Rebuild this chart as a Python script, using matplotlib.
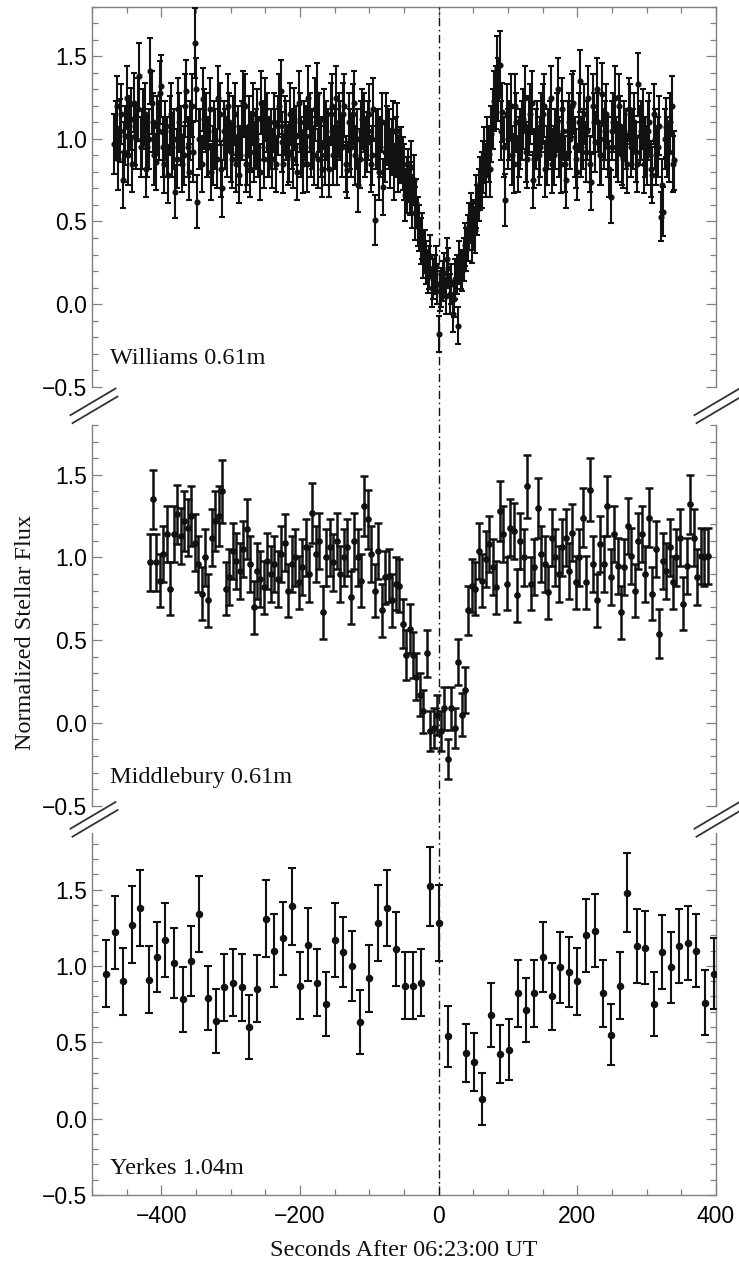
import numpy as np
import matplotlib
matplotlib.use("Agg")
import matplotlib.pyplot as plt
from matplotlib.lines import Line2D
import matplotlib.transforms as mtransforms
from matplotlib.ticker import MultipleLocator

# ---------------- data ----------------
# Williams 0.61m : two interleaved frame sets (cadence)
WILLIAMS_A_T0 = -468
WILLIAMS_B_T0 = -466
WILLIAMS_DT = 4
WILLIAMS_A_FLUX = [
    0.97, 1.20, 1.05, 0.75, 1.02, 0.90, 1.12, 1.22, 1.00, 1.38,
    1.00, 1.15, 0.95, 1.41, 1.10, 0.86, 1.05, 1.32, 0.85, 0.95,
    1.08, 0.95, 0.68, 1.18, 1.02, 0.90, 1.29, 0.80, 1.20, 1.58,
    0.62, 1.00, 1.24, 1.10, 0.95, 0.80, 1.05, 0.88, 1.15, 0.70,
    1.00, 1.20, 0.92, 1.08, 0.85, 0.78, 1.05, 1.20, 0.90, 0.82,
    1.15, 1.00, 0.95, 1.22, 0.88, 1.10, 0.95, 0.88, 1.00, 1.08,
    1.29, 0.85, 1.05, 0.92, 1.00, 1.12, 0.80, 1.10, 0.85, 1.02,
    1.25, 0.95, 0.90, 1.27, 1.10, 0.82, 0.90, 1.00, 1.15, 0.90,
    1.25, 1.10, 0.95, 1.20, 0.81, 1.00, 1.15, 0.90, 0.72, 1.05,
    1.10, 0.98, 1.15, 0.90, 0.51, 1.00, 0.95, 0.71, 1.10, 1.00,
    0.95, 0.80, 1.05, 0.90, 0.85, 0.66, 0.78, 0.83, 0.75, 0.61,
    0.46, 0.41, 0.32, 0.19, 0.29, 0.15, 0.23, -0.18, 0.10, 0.19,
    0.27, 0.06, -0.06, 0.15, -0.13, 0.21, 0.27, 0.33, 0.47, 0.39,
    0.45, 0.57, 0.73, 0.83, 0.81, 0.91, 1.03, 1.23, 1.43, 1.45,
    1.16, 0.63, 1.00, 1.20, 0.85, 1.10, 0.95, 1.05, 1.25, 0.88,
    1.15, 0.75, 1.00, 0.90, 1.10, 1.20, 0.90, 1.05, 0.85, 1.00,
    1.30, 0.85, 1.05, 0.75, 1.10, 1.20, 0.95, 0.80, 1.35, 1.00,
    0.92, 1.25, 0.74, 1.10, 1.30, 0.90, 1.27, 1.05, 0.95, 0.65,
    1.10, 0.95, 1.20, 0.90, 1.05, 0.85, 1.15, 1.00, 0.92, 1.33,
    1.05, 0.85, 0.90, 1.10, 0.78, 1.00, 0.95, 0.53, 0.56, 1.07,
    0.92, 1.20, 0.87,
]
WILLIAMS_A_ERR = [
    0.18, 0.18, 0.19, 0.17, 0.18, 0.18, 0.19, 0.18, 0.18, 0.20,
    0.18, 0.19, 0.18, 0.20, 0.18, 0.17, 0.18, 0.19, 0.18, 0.18,
    0.18, 0.18, 0.16, 0.19, 0.18, 0.18, 0.19, 0.17, 0.19, 0.21,
    0.16, 0.18, 0.19, 0.18, 0.18, 0.17, 0.18, 0.18, 0.19, 0.17,
    0.18, 0.19, 0.18, 0.18, 0.17, 0.17, 0.18, 0.19, 0.18, 0.17,
    0.19, 0.18, 0.18, 0.19, 0.18, 0.18, 0.18, 0.18, 0.18, 0.18,
    0.19, 0.18, 0.18, 0.18, 0.18, 0.19, 0.17, 0.18, 0.18, 0.18,
    0.19, 0.18, 0.18, 0.19, 0.18, 0.17, 0.18, 0.18, 0.19, 0.18,
    0.19, 0.18, 0.18, 0.19, 0.17, 0.18, 0.18, 0.18, 0.16, 0.18,
    0.18, 0.18, 0.18, 0.18, 0.15, 0.18, 0.18, 0.17, 0.18, 0.18,
    0.17, 0.17, 0.17, 0.17, 0.16, 0.16, 0.16, 0.16, 0.15, 0.15,
    0.14, 0.14, 0.13, 0.12, 0.13, 0.12, 0.12, 0.11, 0.12, 0.12,
    0.13, 0.12, 0.11, 0.12, 0.11, 0.12, 0.13, 0.13, 0.14, 0.14,
    0.14, 0.15, 0.16, 0.16, 0.16, 0.17, 0.17, 0.18, 0.19, 0.20,
    0.18, 0.16, 0.18, 0.19, 0.18, 0.18, 0.18, 0.18, 0.19, 0.18,
    0.18, 0.17, 0.18, 0.18, 0.18, 0.19, 0.18, 0.18, 0.18, 0.18,
    0.19, 0.18, 0.18, 0.17, 0.18, 0.19, 0.18, 0.17, 0.19, 0.18,
    0.18, 0.19, 0.17, 0.18, 0.19, 0.18, 0.19, 0.18, 0.18, 0.16,
    0.18, 0.18, 0.19, 0.18, 0.18, 0.18, 0.18, 0.18, 0.18, 0.19,
    0.18, 0.18, 0.18, 0.18, 0.17, 0.18, 0.18, 0.15, 0.15, 0.18,
    0.18, 0.18, 0.18,
]
WILLIAMS_B_FLUX = [
    1.05, 0.88, 1.15, 0.92, 1.25, 1.08, 0.85, 1.02, 1.18, 0.95,
    1.12, 0.82, 1.00, 1.22, 0.90, 1.08, 1.28, 0.95, 1.05, 0.78,
    1.15, 1.00, 0.88, 1.10, 0.85, 1.20, 0.95, 1.05, 0.92, 1.30,
    1.00, 0.85, 1.12, 0.95, 1.18, 0.90, 1.00, 1.25, 0.82, 1.05,
    0.95, 1.10, 0.88, 1.15, 1.02, 0.90, 1.22, 0.85, 1.08, 0.98,
    0.92, 1.12, 0.80, 1.05, 1.18, 0.95, 1.00, 1.10, 0.85, 1.20,
    0.98, 1.08, 0.90, 1.15, 0.88, 1.02, 1.22, 0.95, 1.05, 0.85,
    1.10, 1.00, 1.18, 0.88, 0.95, 1.12, 1.05, 0.82, 1.20, 1.00,
    0.90, 1.05, 1.15, 0.85, 1.10, 0.95, 1.22, 1.00, 0.88, 1.12,
    0.95, 1.05, 0.85, 1.18, 1.00, 0.80, 1.10, 0.92, 1.02, 0.88,
    1.05, 0.95, 0.85, 0.90, 0.80, 0.72, 0.70, 0.62, 0.55, 0.50,
    0.38, 0.30, 0.25, 0.22, 0.10, 0.18, 0.12, 0.08, 0.14, 0.05,
    0.22, 0.12, 0.03, 0.18, 0.25, 0.20, 0.36, 0.40, 0.52, 0.48,
    0.62, 0.66, 0.75, 0.90, 0.95, 0.82, 1.12, 1.25, 1.30, 1.05,
    0.95, 1.15, 1.05, 0.90, 1.20, 0.85, 1.00, 1.12, 0.92, 1.08,
    1.22, 0.88, 1.05, 0.95, 1.15, 0.82, 1.00, 1.25, 0.90, 1.10,
    0.95, 1.18, 0.85, 1.05, 1.00, 1.22, 0.88, 1.10, 0.95, 1.15,
    1.05, 0.85, 1.20, 0.98, 1.10, 0.90, 1.00, 1.15, 0.82, 1.05,
    1.25, 0.92, 1.08, 0.88, 1.00, 1.18, 0.95, 1.10, 0.85, 1.02,
    1.12, 0.95, 1.05, 0.82, 1.15, 0.90, 1.08, 0.72, 1.00, 0.95,
    1.10, 0.85,
]
WILLIAMS_B_ERR = [
    0.18, 0.19, 0.18, 0.18, 0.19, 0.18, 0.17, 0.18, 0.19, 0.18,
    0.18, 0.17, 0.18, 0.19, 0.18, 0.18, 0.19, 0.18, 0.18, 0.17,
    0.19, 0.18, 0.18, 0.18, 0.17, 0.19, 0.18, 0.18, 0.18, 0.19,
    0.18, 0.17, 0.18, 0.18, 0.19, 0.18, 0.18, 0.19, 0.17, 0.18,
    0.18, 0.18, 0.18, 0.19, 0.18, 0.18, 0.19, 0.17, 0.18, 0.18,
    0.18, 0.18, 0.17, 0.18, 0.19, 0.18, 0.18, 0.18, 0.17, 0.19,
    0.18, 0.18, 0.18, 0.19, 0.18, 0.18, 0.19, 0.18, 0.18, 0.17,
    0.18, 0.18, 0.19, 0.18, 0.18, 0.18, 0.18, 0.17, 0.19, 0.18,
    0.18, 0.18, 0.19, 0.17, 0.18, 0.18, 0.19, 0.18, 0.18, 0.18,
    0.18, 0.18, 0.17, 0.19, 0.18, 0.17, 0.18, 0.18, 0.18, 0.18,
    0.18, 0.18, 0.17, 0.17, 0.17, 0.17, 0.16, 0.16, 0.16, 0.15,
    0.14, 0.14, 0.13, 0.13, 0.12, 0.12, 0.12, 0.12, 0.12, 0.11,
    0.12, 0.12, 0.11, 0.12, 0.13, 0.12, 0.13, 0.14, 0.15, 0.15,
    0.16, 0.16, 0.17, 0.17, 0.18, 0.17, 0.18, 0.19, 0.19, 0.18,
    0.18, 0.18, 0.18, 0.18, 0.19, 0.17, 0.18, 0.18, 0.18, 0.18,
    0.19, 0.18, 0.18, 0.18, 0.18, 0.17, 0.18, 0.19, 0.18, 0.18,
    0.18, 0.19, 0.17, 0.18, 0.18, 0.19, 0.18, 0.18, 0.18, 0.18,
    0.18, 0.17, 0.19, 0.18, 0.18, 0.18, 0.18, 0.18, 0.17, 0.18,
    0.19, 0.18, 0.18, 0.18, 0.18, 0.19, 0.18, 0.18, 0.17, 0.18,
    0.18, 0.18, 0.18, 0.17, 0.18, 0.18, 0.18, 0.16, 0.18, 0.18,
    0.18, 0.17,
]

# Middlebury 0.61m
MIDDLEBURY_T0 = -417
MIDDLEBURY_DT = 5
MIDDLEBURY_FLUX = [
    0.97, 1.35, 0.97, 0.86, 1.02, 1.14, 0.81, 1.14, 1.26, 1.13,
    1.22, 1.18, 1.25, 1.09, 0.96, 0.78, 1.00, 0.74, 1.12, 1.22,
    1.25, 1.40, 0.81, 0.88, 1.04, 0.98, 0.92, 1.05, 1.17, 0.96,
    0.70, 0.92, 0.87, 0.82, 0.98, 0.90, 0.96, 0.87, 1.02, 1.09,
    0.80, 0.96, 1.00, 0.85, 0.94, 1.06, 0.90, 1.27, 1.02, 1.10,
    0.67, 1.00, 1.06, 0.97, 1.10, 0.90, 1.00, 1.06, 0.76, 1.10,
    1.00, 0.86, 1.31, 1.23, 1.02, 0.80, 1.04, 0.68, 0.88, 0.89,
    0.74, 0.84, 0.83, 0.60, 0.41, 0.57, 0.41, 0.28, 0.17, 0.07,
    0.42, -0.05, -0.03, 0.05, -0.05, 0.09, -0.22, 0.09, -0.03, 0.37,
    0.05, 0.20, 0.68, 0.83, 0.81, 1.04, 0.86, 0.99, 1.08, 0.94,
    0.82, 1.28, 1.14, 0.84, 1.18, 1.16, 0.77, 1.10, 1.00, 1.43,
    0.84, 0.94, 1.30, 1.02, 0.96, 0.79, 1.12, 1.00, 0.90, 1.06,
    1.12, 0.92, 1.15, 0.85, 1.00, 1.24, 0.85, 1.41, 0.96, 0.74,
    1.08, 0.96, 1.31, 0.88, 1.14, 0.95, 0.67, 0.94, 1.19, 1.01,
    0.80, 1.10, 1.14, 0.90, 1.24, 0.78, 1.05, 0.54, 0.98, 0.92,
    1.06, 0.85, 1.00, 1.12, 0.72, 0.95, 1.32, 1.12, 0.88, 1.01,
    1.00, 1.01,
]
MIDDLEBURY_ERR = [
    0.17, 0.18, 0.17, 0.16, 0.17, 0.17, 0.16, 0.17, 0.18, 0.17,
    0.18, 0.17, 0.18, 0.17, 0.17, 0.16, 0.17, 0.16, 0.17, 0.18,
    0.18, 0.19, 0.16, 0.17, 0.17, 0.17, 0.17, 0.17, 0.18, 0.17,
    0.16, 0.17, 0.17, 0.16, 0.17, 0.17, 0.17, 0.17, 0.17, 0.17,
    0.16, 0.17, 0.17, 0.16, 0.17, 0.17, 0.17, 0.18, 0.17, 0.17,
    0.16, 0.17, 0.17, 0.17, 0.17, 0.17, 0.17, 0.17, 0.16, 0.17,
    0.17, 0.16, 0.18, 0.18, 0.17, 0.16, 0.17, 0.16, 0.16, 0.16,
    0.16, 0.16, 0.16, 0.15, 0.15, 0.15, 0.14, 0.14, 0.13, 0.13,
    0.14, 0.12, 0.12, 0.12, 0.12, 0.13, 0.12, 0.13, 0.12, 0.14,
    0.13, 0.14, 0.15, 0.16, 0.16, 0.17, 0.16, 0.17, 0.17, 0.17,
    0.16, 0.18, 0.17, 0.16, 0.17, 0.17, 0.16, 0.17, 0.17, 0.19,
    0.16, 0.17, 0.18, 0.17, 0.17, 0.16, 0.17, 0.17, 0.17, 0.17,
    0.17, 0.17, 0.17, 0.16, 0.17, 0.18, 0.16, 0.19, 0.17, 0.16,
    0.17, 0.17, 0.18, 0.17, 0.17, 0.17, 0.16, 0.17, 0.17, 0.17,
    0.16, 0.17, 0.17, 0.17, 0.18, 0.16, 0.17, 0.15, 0.17, 0.17,
    0.17, 0.16, 0.17, 0.17, 0.16, 0.17, 0.18, 0.17, 0.17, 0.17,
    0.17, 0.17,
]

# Yerkes 1.04m
YERKES_T = [
    -480, -467, -455, -443, -431, -418, -406, -394, -382, -369,
    -357, -345, -333, -321, -309, -297, -284, -274, -262, -249,
    -237, -225, -212, -200, -188, -176, -163, -150, -138, -125,
    -113, -101, -88, -74, -61, -49, -37, -25, -12, 1,
    14, 39, 51, 63, 76, 88, 101, 114, 126, 138,
    150, 163, 175, 188, 200, 212, 225, 237, 249, 261,
    272, 286, 298, 310, 322, 335, 347, 359, 371, 384,
    397,
]
YERKES_FLUX = [
    0.95, 1.22, 0.90, 1.27, 1.38, 0.91, 1.06, 1.17, 1.02, 0.78,
    1.03, 1.34, 0.79, 0.64, 0.86, 0.89, 0.86, 0.60, 0.85, 1.31,
    1.10, 1.18, 1.39, 0.87, 1.14, 0.89, 0.75, 1.17, 1.09, 1.00,
    0.63, 0.92, 1.28, 1.38, 1.11, 0.87, 0.87, 0.89, 1.52, 1.28,
    0.54, 0.43, 0.37, 0.13, 0.68, 0.42, 0.45, 0.82, 0.71, 0.82,
    1.06, 0.80, 0.99, 0.96, 0.90, 1.20, 1.23, 0.82, 0.55, 0.87,
    1.48, 1.13, 1.12, 0.75, 1.09, 0.99, 1.13, 1.15, 1.10, 0.76,
    0.95,
]
YERKES_ERR = [
    0.22, 0.24, 0.22, 0.25, 0.25, 0.22, 0.23, 0.24, 0.23, 0.21,
    0.23, 0.25, 0.21, 0.21, 0.22, 0.22, 0.22, 0.21, 0.22, 0.25,
    0.24, 0.24, 0.25, 0.22, 0.24, 0.22, 0.21, 0.24, 0.23, 0.23,
    0.21, 0.22, 0.25, 0.25, 0.24, 0.22, 0.22, 0.22, 0.26, 0.25,
    0.20, 0.19, 0.19, 0.17, 0.21, 0.19, 0.20, 0.22, 0.21, 0.22,
    0.23, 0.22, 0.23, 0.23, 0.22, 0.24, 0.24, 0.22, 0.20, 0.22,
    0.26, 0.24, 0.24, 0.21, 0.24, 0.23, 0.24, 0.24, 0.24, 0.21,
    0.23,
]

PANEL_LABELS = ["Williams 0.61m", "Middlebury 0.61m", "Yerkes 1.04m"]
X_LABEL = "Seconds After 06:23:00 UT"
Y_LABEL = "Normalized Stellar Flux"

# ---------------- build series ----------------
wa_t = WILLIAMS_A_T0 + WILLIAMS_DT * np.arange(len(WILLIAMS_A_FLUX))
wb_t = WILLIAMS_B_T0 + WILLIAMS_DT * np.arange(len(WILLIAMS_B_FLUX))
w_t = np.concatenate([wa_t, wb_t])
w_f = np.concatenate([WILLIAMS_A_FLUX, WILLIAMS_B_FLUX])
w_e = np.concatenate([WILLIAMS_A_ERR, WILLIAMS_B_ERR])
m_t = MIDDLEBURY_T0 + MIDDLEBURY_DT * np.arange(len(MIDDLEBURY_FLUX))
# (t, flux, err, markersize, capsize, linewidth)
series = [
    (w_t, w_f, w_e, 3.4, 2.5, 1.5),
    (m_t, np.array(MIDDLEBURY_FLUX), np.array(MIDDLEBURY_ERR), 3.8, 2.6, 1.8),
    (np.array(YERKES_T), np.array(YERKES_FLUX), np.array(YERKES_ERR), 4.4, 2.8, 1.5),
]

# ---------------- figure ----------------
plt.rcParams['font.family'] = ['Liberation Sans', 'DejaVu Sans']
SERIF = ['Liberation Serif', 'DejaVu Serif']
W, H = 739, 1264
fig = plt.figure(figsize=(W / 100, H / 100), dpi=100)

LEFT, RIGHT = 92, 716
PANELS = [(6.7, 386.7), (425.0, 805.7), (833.0, 1195.0)]
YLIMS = [(-0.5, 1.80), (-0.5, 1.80), (-0.5, 1.87)]
SPINE = '#808080'
INK = '#111111'

axes = []
for i, ((top, bot), yl, (t, f, e, ms, cs, lw), lab) in enumerate(
        zip(PANELS, YLIMS, series, PANEL_LABELS)):
    ax = fig.add_axes([LEFT / W, 1 - bot / H, (RIGHT - LEFT) / W, (bot - top) / H])
    ax.set_facecolor('none')
    ax.errorbar(t, f, yerr=e, fmt='o', color=INK, ms=ms, mec=INK, mfc=INK,
                capsize=cs, elinewidth=lw, capthick=lw, zorder=3)
    ax.set_xlim(-500, 400)
    ax.set_ylim(*yl)
    ax.xaxis.set_major_locator(MultipleLocator(200))
    ax.xaxis.set_minor_locator(MultipleLocator(50))
    ax.yaxis.set_major_locator(MultipleLocator(0.5))
    ax.yaxis.set_minor_locator(MultipleLocator(0.1))
    for s in ax.spines.values():
        s.set_color(SPINE)
        s.set_linewidth(1.0)
    ax.spines['top'].set_visible(i == 0)
    ax.spines['bottom'].set_visible(i == 2)
    ax.tick_params(axis='y', which='both', direction='in', left=True, right=True,
                   color=SPINE, width=0.9, labelsize=16.5, pad=3.5)
    ax.tick_params(axis='y', which='major', length=7)
    ax.tick_params(axis='y', which='minor', length=4)
    ax.tick_params(axis='x', which='both', direction='in', color=SPINE, width=0.9,
                   top=(i == 0), bottom=(i == 2), labelbottom=(i == 2),
                   labeltop=False, labelsize=16.5, pad=7)
    ax.tick_params(axis='x', which='major', length=7)
    ax.tick_params(axis='x', which='minor', length=4)
    trans = mtransforms.blended_transform_factory(ax.transAxes, ax.transData)
    ax.text(0.029, -0.36, lab, transform=trans, fontfamily=SERIF, fontsize=17.5,
            color=INK, ha='left', va='baseline')
    axes.append(ax)

# x label and y label
fig.text((LEFT + RIGHT) / 2 / W, 1 - 1251 / H, X_LABEL, fontfamily=SERIF,
         fontsize=17.5, color=INK, ha='center', va='center')
fig.text(26 / W, 1 - 632 / H, Y_LABEL, fontfamily=SERIF, fontsize=17.5,
         color=INK, ha='center', va='center', rotation=90)

# vertical dash-dot line at t = 0 across all panels
btrans = mtransforms.blended_transform_factory(axes[2].transData, fig.transFigure)
fig.add_artist(Line2D([0, 0], [1 - PANELS[2][1] / H, 1 - PANELS[0][0] / H],
                      transform=btrans, color=INK, lw=1.0,
                      linestyle=(0, (6.0, 2.5, 1.2, 2.5))))

# axis break marks
for g in range(2):
    cy = (PANELS[g][1] + PANELS[g + 1][0]) / 2
    for xpx in (LEFT, RIGHT):
        cx = xpx + 2
        for off in (-1, 1):
            x0, y0 = cx + off - 22.5, cy + 4 * off + 13.3
            x1, y1 = cx + off + 22.5, cy + 4 * off - 13.3
            fig.add_artist(Line2D([x0 / W, x1 / W], [1 - y0 / H, 1 - y1 / H],
                                  transform=fig.transFigure, color='#333333',
                                  lw=1.3))

fig.savefig('out.png', dpi=100)
